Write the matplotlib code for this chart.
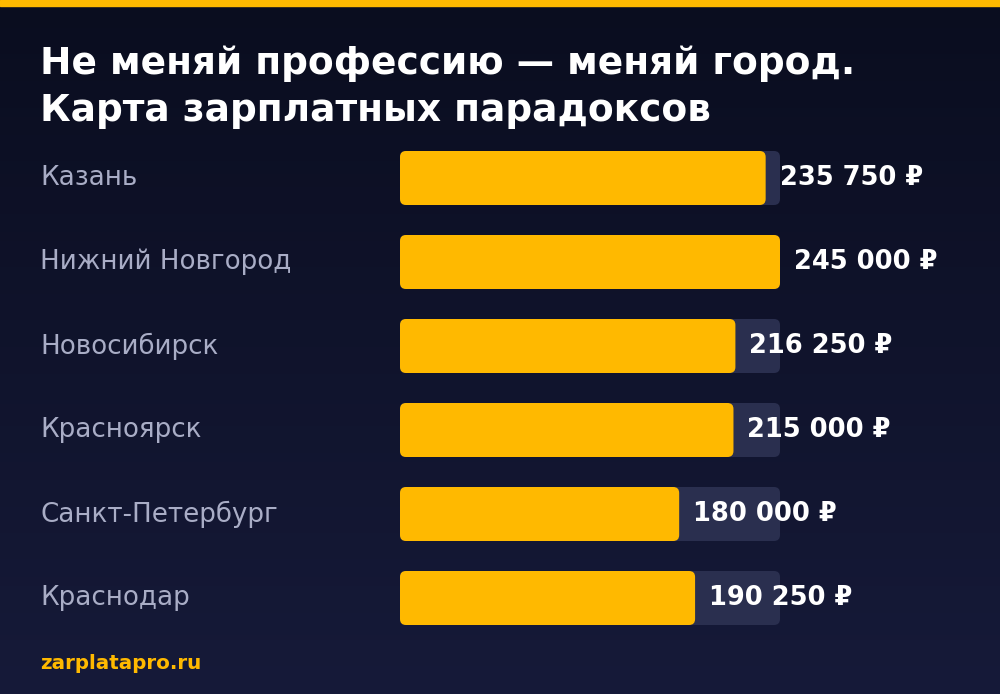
# salary bars by city, dark poster style

import numpy as np
import matplotlib.pyplot as plt
from matplotlib.patches import FancyBboxPatch, Rectangle

# data
cities = ['Казань', 'Нижний Новгород', 'Новосибирск', 'Красноярск',
          'Санкт-Петербург', 'Краснодар']
salaries = [235750, 245000, 216250, 215000, 180000, 190250]
title_lines = ['Не меняй профессию — меняй город.', 'Карта зарплатных парадоксов']
footer = 'zarplatapro.ru'

# colours
bg_top = '#0a0d1f'
bg_bottom = '#161a39'
yellow = '#ffb900'
track = '#2a2f4f'
label_col = '#a9adc6'

W, H = 1000, 694
fig = plt.figure(figsize=(W / 100, H / 100), dpi=100)

# background gradient + top stripe
bg = fig.add_axes([0, 0, 1, 1])
bg.set_xlim(0, W)
bg.set_ylim(H, 0)
bg.axis('off')
grad = np.linspace(0, 1, 256).reshape(-1, 1)
cmap = plt.matplotlib.colors.LinearSegmentedColormap.from_list('bg', [bg_top, bg_bottom])
bg.imshow(grad, extent=[0, W, H, 0], aspect='auto', cmap=cmap, zorder=0)
bg.add_patch(Rectangle((0, 0), W, 6, color=yellow, zorder=1))

# title, one text per line
for y, line in zip([74, 121], title_lines):
    bg.text(40, y, line, color='white', fontsize=27, fontweight='bold',
            va='baseline', ha='left')
bg.text(40, 669, footer, color=yellow, fontsize=14.3, fontweight='bold',
        va='baseline', ha='left')

# bar axes: 400..780 px wide, rows 136..640 px
row_px = 84
ax = fig.add_axes([400 / W, 1 - 640 / H, 380 / W, 504 / H])
ax.axis('off')
vmax = max(salaries)
ax.set_xlim(0, vmax)
ax.set_ylim(len(cities) - 0.5, -0.5)

bar_h = 54 / row_px
x_per_px = vmax / 380
y_per_px = 1 / row_px
aspect = y_per_px / x_per_px
rad = 6 * x_per_px

for i, (city, val) in enumerate(zip(cities, salaries)):
    ax.add_patch(FancyBboxPatch((0, i - bar_h / 2), vmax, bar_h,
                                boxstyle=f'round,pad=0,rounding_size={rad}',
                                mutation_aspect=aspect, fc=track, ec='none'))
    ax.add_patch(FancyBboxPatch((0, i - bar_h / 2), val, bar_h,
                                boxstyle=f'round,pad=0,rounding_size={rad}',
                                mutation_aspect=aspect, fc=yellow, ec='none'))
    ax.annotate(f'{val:,}'.replace(',', ' ') + ' ₽', (val, i),
                xytext=(14, 0), textcoords='offset pixels',
                color='white', fontsize=18.5, fontweight='bold',
                va='center', ha='left', annotation_clip=False)
    ax.annotate(city, (0, i), xytext=(40 - 400, 0), textcoords='offset pixels',
                color=label_col, fontsize=18.8, va='center', ha='left',
                annotation_clip=False)

fig.savefig('out.png', dpi=100)
